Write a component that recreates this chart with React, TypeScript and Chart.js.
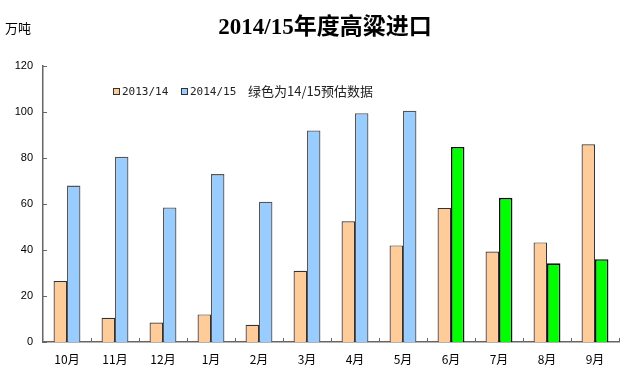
import React, { useEffect, useRef } from "react";
import { Chart, registerables } from "chart.js";

Chart.register(...registerables);

const months = ["10月", "11月", "12月", "1月", "2月", "3月", "4月", "5月", "6月", "7月", "8月", "9月"];
const imports1314 = [26.5, 10.5, 8.5, 12, 7.5, 31, 52.5, 42, 58.3, 39.3, 43.3, 86];
const imports1415 = [68, 80.5, 58.5, 73, 61, 92, 99.5, 100.5, 84.8, 62.7, 34.2, 36];
const isForecast = [false, false, false, false, false, false, false, false, true, true, true, true];
const yTicks = [0, 20, 40, 60, 80, 100, 120];
const titleText = "2014/15年度高粱进口";
const unitText = "万吨";
const seriesLabels = ["2013/14", "2014/15"];
const noteText = "绿色为14/15预估数据";

const ORANGE = "#FFCC99";
const BLUE = "#99CCFF";
const GREEN = "#00FF00";

const decorPlugin = {
  id: "decor",
  afterDraw(chart: any) {
    const ctx = chart.ctx;
    const area = chart.chartArea;
    const y = chart.scales.y;
    ctx.save();
    // title
    ctx.fillStyle = "#000";
    ctx.textBaseline = "middle";
    ctx.textAlign = "center";
    ctx.font = "bold 23px 'Liberation Serif', 'Noto Sans CJK SC', serif";
    ctx.fillText(titleText, 325, 28);
    // unit
    ctx.textAlign = "left";
    ctx.font = "13px 'Noto Sans CJK SC', sans-serif";
    ctx.fillText(unitText, 5, 28);
    // inward tick marks
    ctx.strokeStyle = "#666";
    ctx.lineWidth = 1;
    ctx.beginPath();
    for (const v of yTicks) {
      const py = Math.round(y.getPixelForValue(v)) + 0.5;
      ctx.moveTo(area.left, py);
      ctx.lineTo(area.left + 4, py);
    }
    const n = months.length;
    const w = (area.right - area.left) / n;
    for (let i = 1; i <= n; i++) {
      const px = Math.round(area.left + i * w) + 0.5;
      ctx.moveTo(px, area.bottom);
      ctx.lineTo(px, area.bottom - 4);
    }
    ctx.stroke();
    // legend
    const ly = 92;
    const items = [
      { c: ORANGE, t: seriesLabels[0], x: 113 },
      { c: BLUE, t: seriesLabels[1], x: 181 },
    ];
    ctx.font = "11px 'DejaVu Sans Mono', monospace";
    for (const it of items) {
      ctx.fillStyle = it.c;
      ctx.fillRect(it.x, ly - 4, 7, 7);
      ctx.strokeStyle = "#333";
      ctx.strokeRect(it.x + 0.5, ly - 3.5, 6, 6);
      ctx.fillStyle = "#222";
      ctx.fillText(it.t, it.x + 9, ly);
    }
    ctx.font = "13px 'Noto Sans CJK SC', sans-serif";
    ctx.fillText(noteText, 248, ly - 1);
    ctx.restore();
  },
};

export default function App() {
  const ref = useRef<HTMLCanvasElement>(null);
  useEffect(() => {
    if (!ref.current) return;
    const chart = new Chart(ref.current, {
      type: "bar",
      data: {
        labels: months,
        datasets: [
          {
            label: seriesLabels[0],
            data: imports1314,
            backgroundColor: ORANGE,
            borderColor: "#333",
            borderWidth: 1.2,
            categoryPercentage: 0.56,
            barPercentage: 1,
          },
          {
            label: seriesLabels[1],
            data: imports1415,
            backgroundColor: isForecast.map((f) => (f ? GREEN : BLUE)),
            borderColor: isForecast.map((f) => (f ? "#111" : "#555")),
            borderWidth: isForecast.map((f) => (f ? 1.6 : 1.3)),
            categoryPercentage: 0.56,
            barPercentage: 1,
          },
        ],
      },
      options: {
        responsive: false,
        animation: false,
        layout: { padding: { top: 66, right: 21, left: 0, bottom: 0 } },
        plugins: {
          legend: { display: false },
          title: { display: false },
          tooltip: { enabled: false },
        },
        scales: {
          x: {
            grid: { display: false, drawTicks: false },
            border: { display: true, color: "#666", width: 1.5 },
            ticks: {
              color: "#000",
              font: { size: 12, family: "'Noto Sans CJK SC', sans-serif" },
              padding: 10,
              maxRotation: 0,
            },
            afterFit(s: any) {
              s.height = 47;
            },
          },
          y: {
            min: 0,
            max: 120,
            grid: { display: false, drawTicks: false },
            border: { display: true, color: "#666", width: 1.5 },
            ticks: {
              stepSize: 20,
              color: "#000",
              font: { size: 11, family: "'Liberation Sans', sans-serif" },
              padding: 10,
            },
            afterFit(s: any) {
              s.width = 43;
            },
          },
        },
      },
      plugins: [decorPlugin],
    });
    return () => chart.destroy();
  }, []);
  return (
    <div style={{ position: "absolute", left: 0, top: 0, width: 640, height: 389, background: "#fff" }}>
      <canvas ref={ref} width={640} height={389} style={{ width: 640, height: 389 }} />
    </div>
  );
}
